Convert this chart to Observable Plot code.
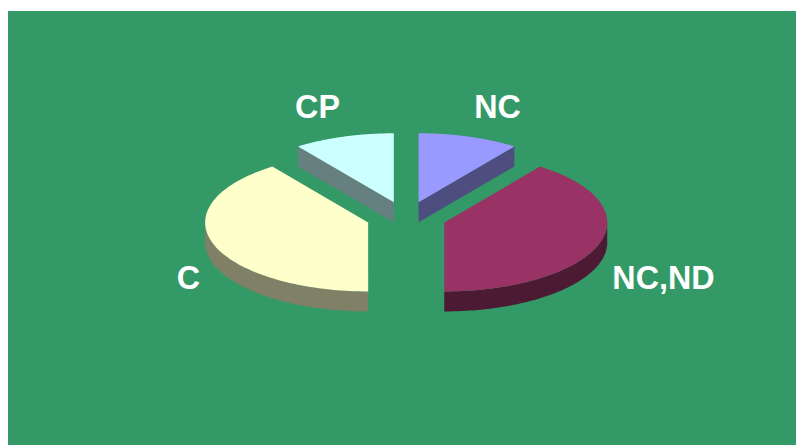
<!DOCTYPE html>
<html>
<head>
<meta charset="utf-8">
<script src="https://cdn.jsdelivr.net/npm/d3@7"></script>
<script src="https://cdn.jsdelivr.net/npm/@observablehq/plot@0.6"></script>
<style>
html,body{margin:0;padding:0;background:#fff;}
svg{display:block;}
</style>
</head>
<body>
<div id="chart"></div>
<script>
// Data, clockwise from 12 o'clock
const categories = ["NC", "NC,ND", "C", "CP"];
const shares = [10, 40, 40, 10];

// Appearance
const sliceColors = ["#9999FF", "#993366", "#FFFFCC", "#CCFFFF"];
const background = "#339966";
const W = 796, H = 445;
const cx = 405.7, cy = 217, rx = 163, ry = 69, depth = 20, explodeX = 40, explodeY = 16;
const labelPlace = {
  "NC": [497, 107],
  "NC,ND": [663, 278],
  "C": [188, 278],
  "CP": [317, 107]
};

const rad = d => d * Math.PI / 180;
const half = c => { const r = d3.rgb(c); return d3.rgb(r.r / 2, r.g / 2, r.b / 2).formatHex(); };
const total = d3.sum(shares);

let acc = 0;
const slices = categories.map((name, i) => {
  const a0 = acc / total * 360; acc += shares[i];
  const a1 = acc / total * 360;
  const mid = (a0 + a1) / 2;
  return {
    name, a0, a1, color: sliceColors[i],
    ox: cx + explodeX * Math.sin(rad(mid)),
    oy: cy - explodeY * Math.cos(rad(mid))
  };
});

const rim = (s, a, dz = 0) => ({ x: s.ox + rx * Math.sin(rad(a)), y: s.oy - ry * Math.cos(rad(a)) + dz });
const arc = (s, a0, a1, dz = 0) => d3.range(0, 91).map(k => rim(s, a0 + (a1 - a0) * k / 90, dz));

// Polygons, painted back to front
const polygons = [];
const add = (pts, fill) => {
  const id = polygons.length ? polygons[polygons.length - 1].id + 1 : 0;
  pts.forEach(p => polygons.push({ ...p, id, fill }));
};
[3, 0, 2, 1].forEach(i => {
  const s = slices[i];
  const apex = { x: s.ox, y: s.oy };
  const wall = half(s.color);
  // radial side walls that face the viewer
  [[s.a0, s.a0 - 90], [s.a1, s.a1 + 90]].forEach(([edge, normal]) => {
    if (Math.cos(rad(normal)) < -1e-6) {
      const e = rim(s, edge);
      add([apex, e, { x: e.x, y: e.y + depth }, { x: apex.x, y: apex.y + depth }], wall);
    }
  });
  // outer curved wall, front half only
  const lo = Math.max(s.a0, 90), hi = Math.min(s.a1, 270);
  if (hi > lo) add([...arc(s, lo, hi), ...arc(s, hi, lo, depth)], wall);
  // top face
  add([apex, ...arc(s, s.a0, s.a1)], s.color);
});

const labels = slices.map(s => ({ name: s.name, x: labelPlace[s.name][0], y: labelPlace[s.name][1] }));

const chart = Plot.plot({
  width: W, height: H,
  margin: 0,
  x: { type: "linear", domain: [0, W], range: [0, W], axis: null },
  y: { type: "linear", domain: [0, H], range: [0, H], axis: null },
  color: { type: "identity" },
  style: { background: "#fff", fontFamily: "'Liberation Sans', Arial, sans-serif" },
  marks: [
    Plot.rect([{ x1: 8, x2: W, y1: 11, y2: H }], { x1: "x1", x2: "x2", y1: "y1", y2: "y2", fill: background }),
    Plot.line(polygons, { x: "x", y: "y", z: "id", fill: "fill", stroke: "none", curve: "linear-closed" }),
    Plot.text(labels, {
      x: "x", y: "y", text: "name", fill: "#fff",
      fontSize: 32.3, fontWeight: "bold", textAnchor: "middle"
    })
  ]
});
document.getElementById("chart").appendChild(chart);
</script>
</body>
</html>
